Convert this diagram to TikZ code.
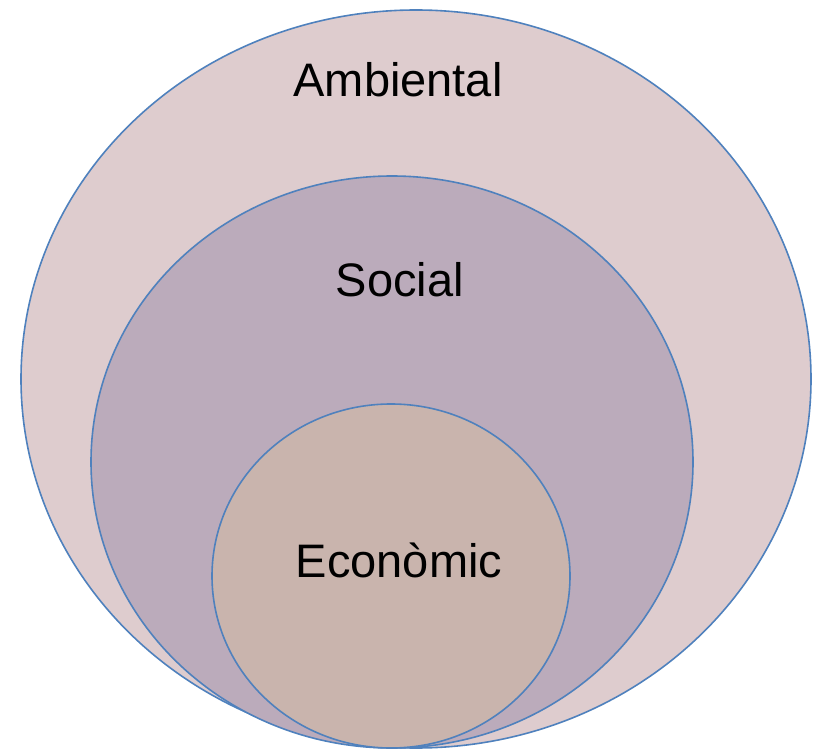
\documentclass[tikz,border=0pt]{standalone}
\usepackage{fontspec}
\setmainfont{Liberation Sans}
\usepackage{tikz}

\definecolor{ambfill}{RGB}{222,204,206}
\definecolor{socfill}{RGB}{187,171,187}
\definecolor{ecofill}{RGB}{201,180,173}
\definecolor{ringblue}{RGB}{79,129,189}

\tikzset{
  ring/.style={draw=ringblue, line width=1.6pt},
  label text/.style={anchor=base, inner sep=0pt, font=\fontsize{47}{56}\selectfont}
}

\begin{document}
\begin{tikzpicture}[x=1pt, y=-1pt]
\useasboundingbox (0, 0) rectangle (817, 754);

\filldraw[ring, fill=ambfill] (416, 379) ellipse [x radius=395, y radius=369];
\filldraw[ring, fill=socfill] (392, 462) ellipse [x radius=301, y radius=286];
\filldraw[ring, fill=ecofill] (391, 576) ellipse [x radius=179, y radius=172];

\node[label text] (ambiental) at (398, 97) {Ambiental};
\node[label text] (social) at (400, 296) {Social};
\node[label text] (economic) at (399, 577) {Econòmic};
\end{tikzpicture}
\end{document}
